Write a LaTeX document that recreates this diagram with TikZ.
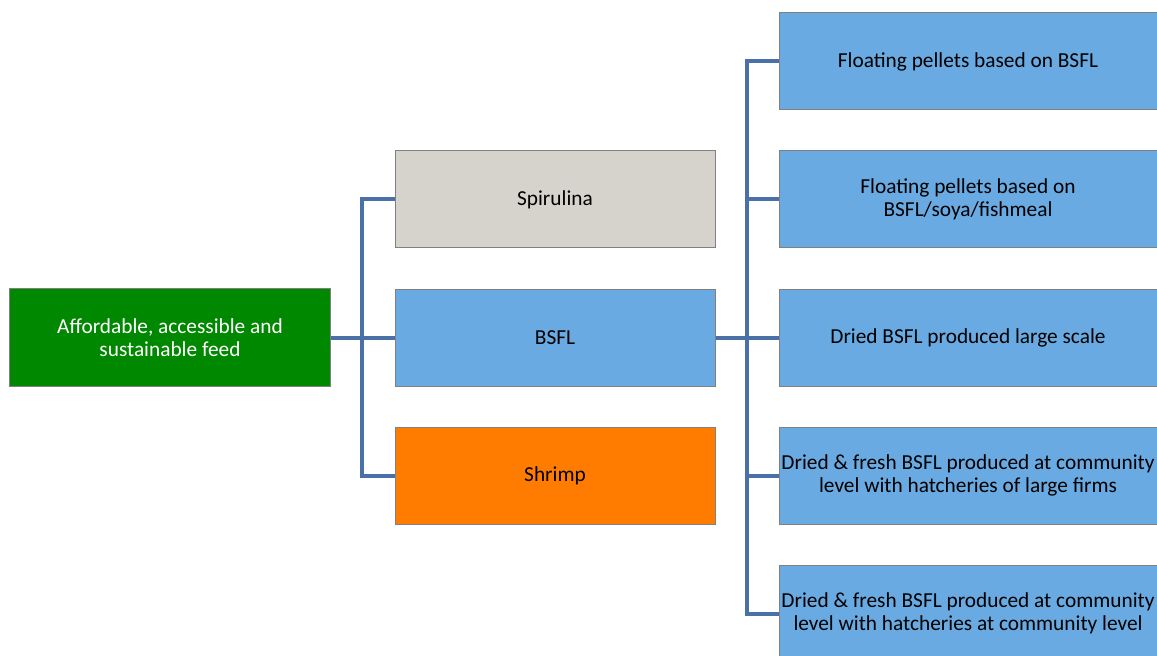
\documentclass[tikz,border=0pt]{standalone}
\usepackage{fontspec}
\setmainfont{Carlito}
\usetikzlibrary{positioning}

\begin{document}
\begin{tikzpicture}[x=0.75pt,y=-0.75pt]
	\definecolor{rootColour}{RGB}{0, 136, 0}
	\definecolor{blueColour}{RGB}{106, 170, 226}
	\definecolor{greyColour}{RGB}{214, 211, 204}
	\definecolor{orangeColour}{RGB}{255, 124, 0}
	\definecolor{linkColour}{RGB}{74, 112, 168}
	\definecolor{edgeColour}{RGB}{128, 128, 128}
	\tikzstyle{box}=[rectangle, draw=edgeColour, line width=0.75pt, inner sep=0pt, align=center, font=\fontsize{16}{17.5}\selectfont]
	\tikzstyle{midbox}=[box, minimum width=240pt, minimum height=72.75pt]
	\tikzstyle{rightbox}=[box, fill=blueColour, minimum width=283.5pt, minimum height=72.75pt]
	\tikzstyle{link}=[draw=linkColour, line width=3pt]

	\useasboundingbox (0,0) rectangle (1157,656);

	\node [box, fill=rootColour, text=white, minimum width=240.75pt, minimum height=73.5pt] (feed) at (170,337.5) {Affordable, accessible and\\sustainable feed};

	\node [midbox, fill=greyColour] (spir) at (555,199.5) {Spirulina};
	\node [midbox, fill=blueColour] (bsfl) at (555,337.5) {BSFL};
	\node [midbox, fill=orangeColour] (shrimp) at (555,475.5) {Shrimp};

	\node [rightbox] (p) at (968,61.5) {Floating pellets based on BSFL};
	\node [rightbox] (q) at (968,199.5) {Floating pellets based on\\BSFL/soya/fishmeal};
	\node [rightbox] (r) at (968,337.5) {Dried BSFL produced large scale};
	\node [rightbox] (s) at (968,475.5) {Dried \& fresh BSFL produced at community\\level with hatcheries of large firms};
	\node [rightbox] (t) at (968,613.5) {Dried \& fresh BSFL produced at community\\level with hatcheries at community level};

	\coordinate (busA) at (362,337.5);
	\coordinate (busB) at (747,337.5);

	\path[link]
	(feed.east) -- (bsfl.west)
	(busA) |- (spir.west)
	(busA) |- (shrimp.west)
	(bsfl.east) -- (r.west)
	(busB) |- (p.west)
	(busB) |- (q.west)
	(busB) |- (s.west)
	(busB) |- (t.west);
\end{tikzpicture}
\end{document}
